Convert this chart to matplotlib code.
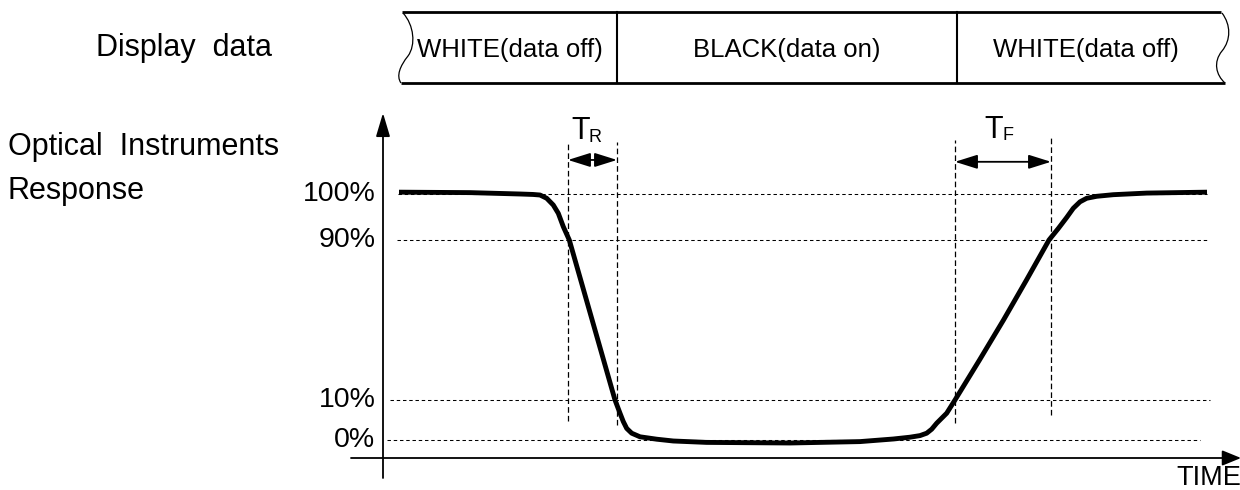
import numpy as np
import matplotlib
matplotlib.use("Agg")
import matplotlib.pyplot as plt
from matplotlib.path import Path
from matplotlib.patches import PathPatch
from matplotlib.transforms import ScaledTranslation

plt.rcParams['font.family'] = ['Liberation Sans', 'DejaVu Sans']

# ---------------- data ----------------
curve_t = [1.6, 8.7, 13.7, 15.0, 15.7, 16.37, 17.03, 17.53, 18.03, 18.63, 23.2,
           23.7, 24.03, 24.37, 24.87, 25.7, 27.37, 29.03, 32.37, 40.7, 47.7, 51.03,
           52.7, 53.7, 54.37, 54.87, 55.37, 56.37, 57.2, 59.65, 62.05, 64.35, 66.6,
           67.53, 68.37, 69.03, 69.7, 70.37, 71.37, 73.03, 76.37, 82.4]
curve_pct = [100.4, 100.3, 100.0, 99.9, 99.78, 99.07, 97.6, 95.8, 92.9, 90.0, 10.0,
             6.7, 4.6, 2.9, 1.7, 0.8, 0.2, -0.25, -0.6, -0.75, -0.4, 0.25,
             0.7, 1.1, 1.7, 2.7, 4.2, 6.7, 10.0, 30.0, 50.0, 70.0, 90.0,
             92.5, 94.9, 96.9, 98.3, 99.07, 99.5, 99.85, 100.2, 100.4]

levels = [100, 90, 10, 0]
level_labels = ['100%', '90%', '10%', '0%']
level_xstart = [1.5, 1.4, 0.7, 0.4]
level_xend = [82.4, 82.4, 82.7, 81.7]

rise_t = (18.5, 23.4)     # T_R markers
fall_t = (57.2, 66.8)     # T_F markers

band_edges = [1.9, 23.4, 57.4, 84.0]
band_labels = ['WHITE(data off)', 'BLACK(data on)', 'WHITE(data off)']

# ---------------- scale (schematic, piecewise linear) ----------------
P = [0, 10, 90, 100]
H = [0, 40, 200, 246]

def fwd(p):
    p = np.asarray(p, float)
    h = np.interp(p, P, H)
    h = np.where(p < 0, p * 4.0, h)
    h = np.where(p > 100, 246 + (p - 100) * 4.6, h)
    return h

def inv(h):
    h = np.asarray(h, float)
    p = np.interp(h, H, P)
    p = np.where(h < 0, h / 4.0, p)
    p = np.where(h > 246, 100 + (h - 246) / 4.6, p)
    return p

W, Hpx = 1240, 490
fig = plt.figure(figsize=(12.4, 4.9), dpi=100)
ax = fig.add_axes([0, 0, 1, 1])
ax.set_yscale('function', functions=(fwd, inv))
ax.set_xlim(-38.3, 85.7)
ax.set_ylim(float(inv(-50)), float(inv(440)))
ax.axis('off')

def fpx(x, y):
    return x / W, 1 - y / Hpx

# axes arrows
ax.annotate('', xy=(0, float(inv(327))), xytext=(0, float(inv(-38))),
            arrowprops=dict(arrowstyle='-|>,head_length=1.44,head_width=0.43',
                            mutation_scale=10, lw=1.3, color='k',
                            shrinkA=0, shrinkB=0), annotation_clip=False)
ax.annotate('', xy=(85.8, float(inv(-18))), xytext=(-3.2, float(inv(-18))),
            arrowprops=dict(arrowstyle='-|>,head_length=1.15,head_width=0.47',
                            mutation_scale=10, lw=1.3, color='k',
                            shrinkA=0, shrinkB=0), annotation_clip=False)

# level dotted lines
for lv, x0, x1 in zip(levels, level_xstart, level_xend):
    ax.plot([x0, x1], [lv, lv], color='k', lw=0.75, linestyle=(0, (3.3, 2.7)))

# level labels
off = ScaledTranslation(0, -7 / 100, fig.dpi_scale_trans)
for lv, lab in zip(levels, level_labels):
    ax.text(-0.75, lv, lab, ha='right', va='baseline', fontsize=20.5,
            transform=ax.transData + off)

# vertical dashed markers
vert_top = [111.3, 111.3, 111.7, 112.6]
vert_bot = [4.75, 3.75, 4.25, 6.25]
for t, yt, yb in zip(list(rise_t) + list(fall_t), vert_top, vert_bot):
    ax.plot([t, t], [yb, yt], color='k', lw=0.9, linestyle=(0, (4.5, 2.5)))

# double arrows
for (ta, tb), yv in [(rise_t, 107.4), (fall_t, 107.0)]:
    ax.annotate('', xy=(tb, yv), xytext=(ta, yv),
                arrowprops=dict(arrowstyle='<|-|>,head_length=1.37,head_width=0.43',
                                mutation_scale=10, lw=1.3, color='k',
                                shrinkA=0, shrinkB=0))

# response curve
ax.plot(curve_t, curve_pct, color='k', lw=3.5, solid_joinstyle='round',
        solid_capstyle='butt')

# T_R / T_F labels
fig.text(*fpx(571, 139), 'T', fontsize=22, ha='left', va='baseline')
fig.text(*fpx(589, 142), 'R', fontsize=13, ha='left', va='baseline')
fig.text(*fpx(984, 138), 'T', fontsize=22, ha='left', va='baseline')
fig.text(*fpx(1002, 140), 'F', fontsize=13, ha='left', va='baseline')

# left labels
fig.text(*fpx(96, 56), 'Display  data', fontsize=22, ha='left', va='baseline')
fig.text(*fpx(8, 155), 'Optical  Instruments', fontsize=22, ha='left', va='baseline')
fig.text(*fpx(8, 199), 'Response', fontsize=22, ha='left', va='baseline')
fig.text(*fpx(1176, 485), 'TIME', fontsize=19.5, ha='left', va='baseline')

# ---------------- display data band ----------------
band_top_px, band_bot_px = 12.3, 83.0
bax = fig.add_axes([0, 1 - band_bot_px / Hpx, 1, (band_bot_px - band_top_px) / Hpx],
                   sharex=ax)
bax.set_ylim(0, 1)
bax.axis('off')
bax.patch.set_alpha(0)

bh = band_bot_px - band_top_px
def by(py):
    return (band_bot_px - py) / bh
def bt(px):
    return (px - 383) / 10

bax.plot([band_edges[0], band_edges[-1] - 0.2], [1, 1], color='k', lw=2.0,
         clip_on=False, solid_capstyle='butt')
bax.plot([band_edges[0] - 0.1, band_edges[-1] + 0.2], [0, 0], color='k', lw=2.0,
         clip_on=False, solid_capstyle='butt')
for e in band_edges[1:-1]:
    bax.plot([e, e], [0, 1], color='k', lw=1.5, clip_on=False)
for i, lab in enumerate(band_labels):
    cx = (band_edges[i] + band_edges[i + 1]) / 2
    if i == 2:
        cx -= 0.4
    bax.text(cx, by(57), lab, ha='center', va='baseline', fontsize=18.5)

# wavy ends
def wavy(pts):
    verts = [(bt(x), by(y)) for x, y in pts]
    codes = [Path.MOVETO] + [Path.CURVE4] * (len(verts) - 1)
    bax.add_patch(PathPatch(Path(verts, codes), fill=False, lw=0.9,
                            color='k', clip_on=False))

wavy([(403, 13), (414, 25), (416, 45), (408, 56),
      (400, 66), (396, 76), (401, 83)])
wavy([(1222, 13), (1231, 25), (1231, 40), (1222, 51),
      (1213, 62), (1216, 75), (1225, 83)])

fig.savefig('out.png', dpi=100)
